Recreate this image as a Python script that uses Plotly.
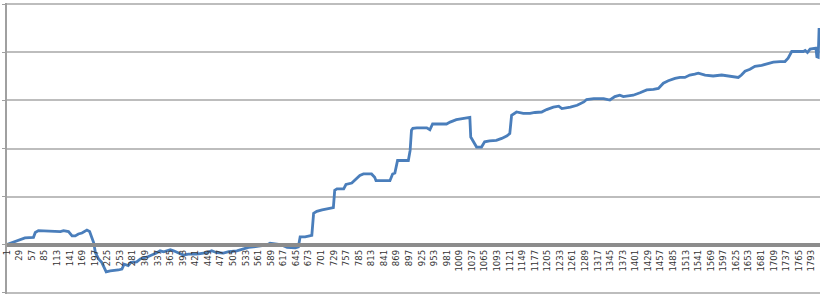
import plotly.graph_objects as go

# Category index (trade number) and cumulative value
trade_idx = [1, 30, 41, 60, 64, 71, 120, 127, 138, 146, 153, 160, 168, 179, 185, 194, 198, 205, 212, 222,
             231, 249, 257, 262, 271, 277, 290, 298, 316, 335, 342, 350, 365, 372, 383, 394, 405, 424, 446, 457,
             468, 483, 495, 513, 528, 539, 558, 580, 587, 598, 610, 625, 643, 650, 654, 665, 676, 680, 684, 691,
             703, 714, 725, 728, 731, 736, 751, 756, 769, 776, 787, 795, 813, 820, 823, 854, 860, 865, 871, 895,
             899, 902, 905, 914, 936, 943, 949, 980, 988, 1002, 1021, 1032, 1034, 1043, 1047, 1058, 1065, 1076, 1091, 1103,
             1114, 1121, 1125, 1136, 1143, 1151, 1166, 1177, 1192, 1203, 1218, 1230, 1237, 1256, 1271, 1286, 1292, 1308, 1330, 1344,
             1355, 1366, 1374, 1385, 1396, 1411, 1426, 1441, 1452, 1463, 1474, 1489, 1500, 1511, 1522, 1533, 1541, 1556, 1574, 1593,
             1608, 1619, 1630, 1637, 1645, 1656, 1667, 1682, 1693, 1708, 1723, 1734, 1741, 1749, 1760, 1775, 1779, 1784, 1790, 1799,
             1803, 1805, 1808, 1810]
cum_value = [0.00, 0.11, 0.14, 0.15, 0.25, 0.29, 0.27, 0.29, 0.27, 0.18, 0.18, 0.22, 0.24, 0.30, 0.27, 0.04, -0.17, -0.30, -0.37, -0.57,
             -0.55, -0.53, -0.51, -0.41, -0.44, -0.37, -0.36, -0.30, -0.25, -0.17, -0.13, -0.15, -0.11, -0.13, -0.18, -0.22, -0.20, -0.20, -0.17, -0.13,
             -0.17, -0.18, -0.15, -0.13, -0.09, -0.06, -0.04, -0.01, 0.03, 0.01, 0.00, -0.06, -0.07, -0.05, 0.16, 0.16, 0.18, 0.19, 0.65, 0.69,
             0.72, 0.74, 0.76, 0.77, 1.13, 1.16, 1.16, 1.25, 1.28, 1.35, 1.44, 1.47, 1.47, 1.40, 1.33, 1.33, 1.47, 1.49, 1.75, 1.75,
             1.96, 2.38, 2.42, 2.43, 2.43, 2.39, 2.51, 2.51, 2.55, 2.60, 2.63, 2.65, 2.24, 2.10, 2.03, 2.03, 2.14, 2.16, 2.17, 2.21,
             2.26, 2.31, 2.69, 2.76, 2.74, 2.73, 2.73, 2.75, 2.76, 2.81, 2.86, 2.88, 2.83, 2.86, 2.90, 2.97, 3.02, 3.04, 3.04, 3.01,
             3.08, 3.11, 3.08, 3.09, 3.11, 3.16, 3.22, 3.23, 3.25, 3.36, 3.41, 3.46, 3.48, 3.48, 3.53, 3.55, 3.57, 3.53, 3.51, 3.53,
             3.51, 3.48, 3.48, 3.53, 3.61, 3.65, 3.71, 3.73, 3.76, 3.80, 3.81, 3.81, 3.88, 4.02, 4.02, 4.02, 4.04, 4.00, 4.07, 4.09,
             4.09, 3.91, 3.90, 4.51]

tick_labels = [1, 29, 57, 85, 113, 141, 169, 197, 225, 253, 281, 309, 337, 365, 393, 421, 449, 477, 505, 533,
               561, 589, 617, 645, 673, 701, 729, 757, 785, 813, 841, 869, 897, 925, 953, 981, 1009, 1037, 1065, 1093,
               1121, 1149, 1177, 1205, 1233, 1261, 1289, 1317, 1345, 1373, 1401, 1429, 1457, 1485, 1513, 1541, 1569, 1597, 1625, 1653,
               1681, 1709, 1737, 1765, 1793]

y_lo, y_hi = -1.03, 5.03

fig = go.Figure()
fig.add_trace(go.Scatter(x=trade_idx, y=cum_value, mode="lines",
                         line=dict(color="#4a7ebb", width=2.8), hoverinfo="skip"))

fig.update_layout(
    width=835, height=300,
    margin=dict(l=7, r=15, t=3, b=6),
    paper_bgcolor="white", plot_bgcolor="white",
    showlegend=False,
    xaxis=dict(
        range=[1, 1812],
        anchor="free", position=(0 - y_lo) / (y_hi - y_lo),
        showline=True, linecolor="#8c8c8c", linewidth=4,
        showgrid=False, zeroline=False,
        tickmode="array", tickvals=tick_labels, ticktext=[str(t) for t in tick_labels],
        tickangle=-90, ticks="",
        tickfont=dict(family="DejaVu Sans", size=8.5, color="#333333"),
    ),
    yaxis=dict(
        range=[y_lo, y_hi], dtick=1, tick0=0,
        showticklabels=False,
        showgrid=True, gridcolor="#bdbdbd", gridwidth=1.5,
        zeroline=False,
        showline=True, linecolor="#a0a0a0", linewidth=1.5,
        ticks="outside", ticklen=3, tickcolor="#a0a0a0",
    ),
)

fig.write_html("out.html")
